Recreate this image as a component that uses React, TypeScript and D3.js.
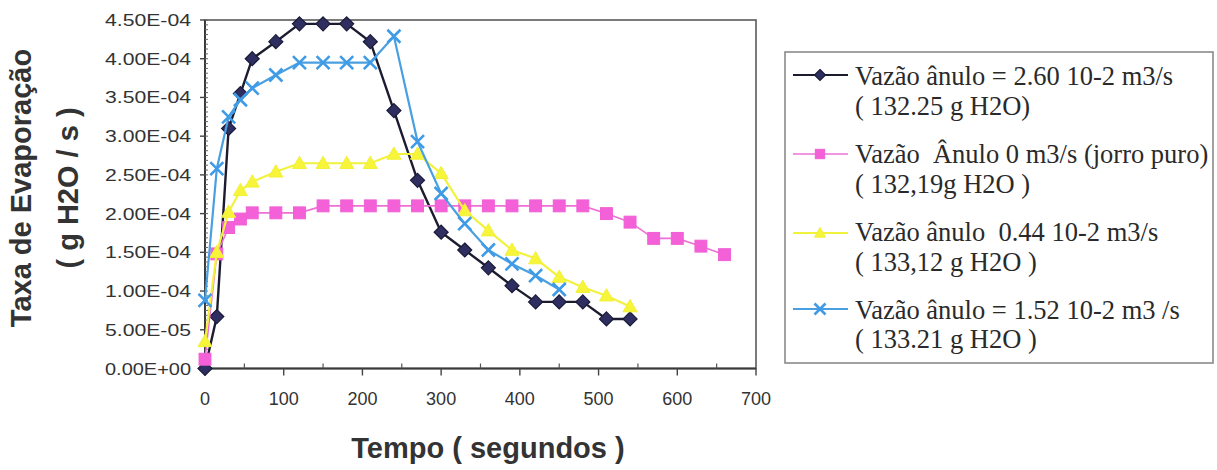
import React from 'react';
import * as d3 from 'd3';

// ---- data ----
const timesBlack = [0, 15, 30, 45, 60, 90, 120, 150, 180, 210, 240, 270, 300, 330, 360, 390, 420, 450, 480, 510, 540];
const valuesBlack = [0, 6.7e-5, 3.1e-4, 3.55e-4, 4.0e-4, 4.22e-4, 4.45e-4, 4.45e-4, 4.45e-4, 4.22e-4, 3.33e-4, 2.43e-4, 1.76e-4, 1.53e-4, 1.30e-4, 1.07e-4, 8.6e-5, 8.6e-5, 8.6e-5, 6.4e-5, 6.4e-5];

const timesPink = [0, 15, 30, 45, 60, 90, 120, 150, 180, 210, 240, 270, 300, 330, 360, 390, 420, 450, 480, 510, 540, 570, 600, 630, 660];
const valuesPink = [1.2e-5, 1.48e-4, 1.82e-4, 1.93e-4, 2.01e-4, 2.01e-4, 2.01e-4, 2.1e-4, 2.1e-4, 2.1e-4, 2.1e-4, 2.1e-4, 2.1e-4, 2.1e-4, 2.1e-4, 2.1e-4, 2.1e-4, 2.1e-4, 2.1e-4, 2.0e-4, 1.89e-4, 1.68e-4, 1.68e-4, 1.58e-4, 1.47e-4];

const timesYellow = [0, 15, 30, 45, 60, 90, 120, 150, 180, 210, 240, 270, 300, 330, 360, 390, 420, 450, 480, 510, 540];
const valuesYellow = [3.5e-5, 1.5e-4, 2.02e-4, 2.3e-4, 2.41e-4, 2.54e-4, 2.65e-4, 2.65e-4, 2.65e-4, 2.65e-4, 2.77e-4, 2.77e-4, 2.52e-4, 2.04e-4, 1.78e-4, 1.53e-4, 1.42e-4, 1.18e-4, 1.05e-4, 9.4e-5, 8.0e-5];

const timesBlue = [0, 15, 30, 45, 60, 90, 120, 150, 180, 210, 240, 270, 300, 330, 360, 390, 420, 450];
const valuesBlue = [8.8e-5, 2.58e-4, 3.25e-4, 3.47e-4, 3.62e-4, 3.79e-4, 3.95e-4, 3.95e-4, 3.95e-4, 3.95e-4, 4.29e-4, 2.93e-4, 2.26e-4, 1.87e-4, 1.53e-4, 1.35e-4, 1.20e-4, 1.02e-4];

const xTickValues = [0, 100, 200, 300, 400, 500, 600, 700];
const yTickValues = [0, 5e-5, 1e-4, 1.5e-4, 2e-4, 2.5e-4, 3e-4, 3.5e-4, 4e-4, 4.5e-4];
const yTickLabels = ['0.00E+00', '5.00E-05', '1.00E-04', '1.50E-04', '2.00E-04', '2.50E-04', '3.00E-04', '3.50E-04', '4.00E-04', '4.50E-04'];

const legendLines = [
  ['Vazão ânulo = 2.60 10-2 m3/s', '( 132.25 g H2O)'],
  ['Vazão  Ânulo 0 m3/s (jorro puro)', '( 132,19g H2O )'],
  ['Vazão ânulo  0.44 10-2 m3/s', '( 133,12 g H2O )'],
  ['Vazão ânulo = 1.52 10-2 m3 /s', '( 133.21 g H2O )'],
];

const xTitle = 'Tempo ( segundos )';
const yTitle1 = 'Taxa de Evaporação';
const yTitle2 = '( g H2O / s )';

type Marker = 'diamond' | 'square' | 'triangle' | 'x';
interface Series { times: number[]; values: number[]; line: string; lineWidth: number; fill: string; stroke: string; marker: Marker; }

const series: Series[] = [
  { times: timesBlack, values: valuesBlack, line: '#1c1c30', lineWidth: 2.4, fill: '#2e2e60', stroke: '#1a1a38', marker: 'diamond' },
  { times: timesPink, values: valuesPink, line: '#ee70d6', lineWidth: 1.6, fill: '#f460d8', stroke: '#f060d4', marker: 'square' },
  { times: timesYellow, values: valuesYellow, line: '#f2f23c', lineWidth: 2.2, fill: '#f7f53a', stroke: '#f2f036', marker: 'triangle' },
  { times: timesBlue, values: valuesBlue, line: '#4a9fe0', lineWidth: 2.2, fill: 'none', stroke: '#3f9be6', marker: 'x' },
];

function MarkerShape({ kind, cx, cy, s, fill, stroke }: { kind: Marker; cx: number; cy: number; s: number; fill: string; stroke: string }) {
  if (kind === 'diamond') {
    return <path d={`M${cx},${cy - s}L${cx + s},${cy}L${cx},${cy + s}L${cx - s},${cy}Z`} fill={fill} stroke={stroke} strokeWidth={1.2} />;
  }
  if (kind === 'square') {
    const h = s * 0.85;
    return <rect x={cx - h} y={cy - h} width={2 * h} height={2 * h} fill={fill} stroke={stroke} strokeWidth={1} />;
  }
  if (kind === 'triangle') {
    return <path d={`M${cx},${cy - s}L${cx + s},${cy + s * 0.75}L${cx - s},${cy + s * 0.75}Z`} fill={fill} stroke={stroke} strokeWidth={1} />;
  }
  return (
    <path d={`M${cx - s},${cy - s}L${cx + s},${cy + s}M${cx - s},${cy + s}L${cx + s},${cy - s}`} stroke={stroke} strokeWidth={2.6} fill="none" />
  );
}

export default function App() {
  const W = 1217, H = 470;
  const x = d3.scaleLinear().domain([0, 700]).range([205, 756]);
  const y = d3.scaleLinear().domain([0, 4.5e-4]).range([368.5, 20]);
  const line = d3.line<[number, number]>().x(d => x(d[0])).y(d => y(d[1]));

  const yMinor = d3.range(0, 4.5e-4 + 1e-9, 5e-5 / 8);
  const xMinor = d3.range(50, 700, 100);

  const sansTick = 'Arial, "Liberation Sans", sans-serif';
  const serif = '"Liberation Serif", "Times New Roman", serif';
  const legendX = 785, legendY = 52, legendW = 428, legendH = 311;
  const legendRowY = [75, 154, 233, 309];
  const legendBase = [[85, 115], [163, 193], [241, 271], [319, 348]];

  return (
    <svg width={W} height={H} style={{ position: 'absolute', left: 0, top: 0, background: '#fff' }}>
      <rect x={0} y={0} width={W} height={H} fill="#fff" />
      {/* plot frame */}
      <rect x={x(0)} y={y(4.5e-4)} width={x(700) - x(0)} height={y(0) - y(4.5e-4)} fill="#fff" stroke="#5a5a5a" strokeWidth={1.6} />
      {/* y axis */}
      <line x1={x(0)} x2={x(0)} y1={y(0)} y2={y(4.5e-4)} stroke="#3a3a3a" strokeWidth={2} />
      {yMinor.map((v, i) => (
        <line key={'ym' + i} x1={x(0)} x2={x(0) + 3} y1={y(v)} y2={y(v)} stroke="#666" strokeWidth={1} />
      ))}
      {yTickValues.map((v, i) => (
        <g key={'yt' + i}>
          <line x1={x(0) - 5} x2={x(0)} y1={y(v)} y2={y(v)} stroke="#444" strokeWidth={1.4} />
          <text x={191} y={y(v) + 6} textAnchor="end" fontFamily={sansTick} fontSize={17} fill="#333"
            textLength={86} lengthAdjust="spacingAndGlyphs">{yTickLabels[i]}</text>
        </g>
      ))}
      {/* x axis */}
      <line x1={x(0)} x2={x(700)} y1={y(0)} y2={y(0)} stroke="#3a3a3a" strokeWidth={2} />
      {xMinor.map((v, i) => (
        <line key={'xm' + i} x1={x(v)} x2={x(v)} y1={y(0)} y2={y(0) - 5} stroke="#555" strokeWidth={1.2} />
      ))}
      {xTickValues.map((v, i) => (
        <g key={'xt' + i}>
          <line x1={x(v)} x2={x(v)} y1={y(0)} y2={y(0) + 7} stroke="#444" strokeWidth={1.4} />
          <text x={x(v)} y={405} textAnchor="middle" fontFamily={sansTick} fontSize={18} fill="#333">{String(v)}</text>
        </g>
      ))}
      {/* series */}
      {series.map((s, si) => {
        const pts: [number, number][] = s.times.map((t, i) => [t, s.values[i]]);
        return (
          <g key={'s' + si}>
            <path d={line(pts) || ''} fill="none" stroke={s.line} strokeWidth={s.lineWidth} />
            {pts.map((p, i) => (
              <MarkerShape key={i} kind={s.marker} cx={x(p[0])} cy={y(p[1])} s={s.marker === 'x' ? 6.5 : 7} fill={s.fill} stroke={s.stroke} />
            ))}
          </g>
        );
      })}
      {/* axis titles */}
      <text x={488} y={458} textAnchor="middle" fontFamily={sansTick} fontWeight="bold" fontSize={29} fill="#333">{xTitle}</text>
      <text transform="translate(31,188) rotate(-90)" textAnchor="middle" fontFamily={sansTick} fontWeight="bold" fontSize={29} fill="#333">{yTitle1}</text>
      <text transform="translate(78,188) rotate(-90)" textAnchor="middle" fontFamily={sansTick} fontWeight="bold" fontSize={29} fill="#333">{yTitle2}</text>
      {/* legend */}
      <rect x={legendX} y={legendY} width={legendW} height={legendH} fill="#fff" stroke="#8a8a8a" strokeWidth={1.6} />
      {series.map((s, i) => (
        <g key={'lg' + i}>
          <line x1={793} x2={848} y1={legendRowY[i]} y2={legendRowY[i]} stroke={s.line} strokeWidth={s.lineWidth * 0.8} />
          <MarkerShape kind={s.marker} cx={820} cy={legendRowY[i]} s={5.5} fill={s.fill} stroke={s.stroke} />
          <text x={855} y={legendBase[i][0]} fontFamily={serif} fontSize={26.5} fill="#2a2a2a" style={{ whiteSpace: 'pre' }}>{legendLines[i][0]}</text>
          <text x={855} y={legendBase[i][1]} fontFamily={serif} fontSize={26.5} fill="#2a2a2a" style={{ whiteSpace: 'pre' }}>{legendLines[i][1]}</text>
        </g>
      ))}
    </svg>
  );
}
